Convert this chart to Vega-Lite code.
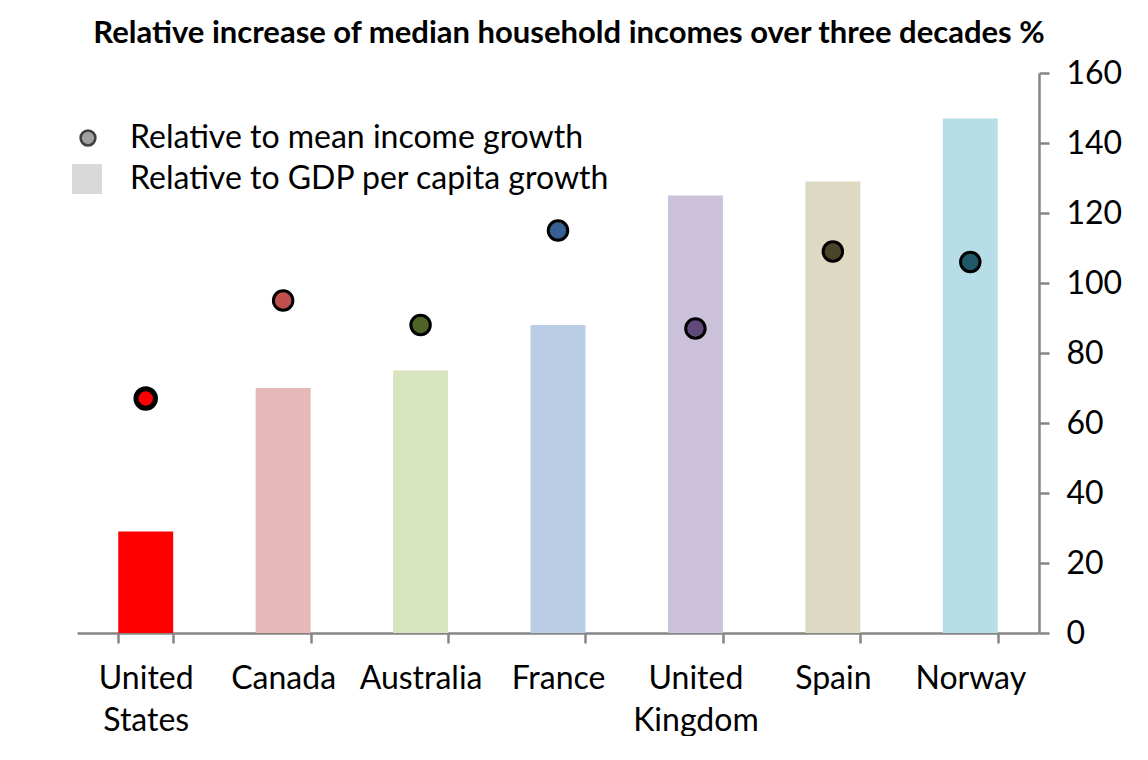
{
  "$schema": "https://vega.github.io/schema/vega-lite/v6.json",
  "width": 962,
  "height": 560,
  "padding": {"left": 71, "top": 18, "right": 0, "bottom": 0},
  "background": "white",
  "title": {
    "text": "Relative increase of median household incomes over three decades %",
    "font": "Lato",
    "fontSize": 31,
    "fontWeight": "bold",
    "color": "black",
    "anchor": "middle",
    "dx": 11,
    "offset": 7
  },
  "config": {
    "view": {"stroke": null},
    "font": "Lato",
    "axis": {
      "domainColor": "#868686",
      "domainWidth": 2.5,
      "tickColor": "#868686",
      "tickWidth": 2.5,
      "tickSize": 10,
      "labelFont": "Lato",
      "labelFontSize": 32,
      "labelColor": "black",
      "grid": false
    }
  },
  "data": {
    "values": [
      {"country": "United States", "gdp": 29, "mean": 67},
      {"country": "Canada", "gdp": 70, "mean": 95},
      {"country": "Australia", "gdp": 75, "mean": 88},
      {"country": "France", "gdp": 88, "mean": 115},
      {"country": "United Kingdom", "gdp": 125, "mean": 87},
      {"country": "Spain", "gdp": 129, "mean": 109},
      {"country": "Norway", "gdp": 147, "mean": 106}
    ]
  },
  "encoding": {
    "x": {
      "field": "country",
      "type": "nominal",
      "sort": null,
      "title": null,
      "scale": {"paddingInner": 0.6, "paddingOuter": 0.3},
      "axis": {
        "labelAngle": 0,
        "tickBand": "extent",
        "labelExpr": "split(datum.label, ' ')",
        "labelLineHeight": 42,
        "labelPadding": 20
      }
    }
  },
  "layer": [
    {
      "mark": {"type": "bar"},
      "encoding": {
        "y": {
          "field": "gdp",
          "type": "quantitative",
          "title": null,
          "scale": {"domain": [0, 160], "nice": false},
          "axis": {"orient": "right", "values": [0, 20, 40, 60, 80, 100, 120, 140, 160], "labelPadding": 17}
        },
        "fill": {
          "field": "country",
          "type": "nominal",
          "legend": null,
          "scale": {
            "domain": ["United States", "Canada", "Australia", "France", "United Kingdom", "Spain", "Norway"],
            "range": ["#FF0000", "#E6B9B8", "#D7E4BD", "#B9CDE5", "#CCC1DA", "#DDD9C3", "#B7DEE8"]
          }
        },
        "opacity": {
          "datum": "Relative to GDP per capita growth",
          "type": "nominal",
          "scale": {"type": "ordinal", "domain": ["Relative to GDP per capita growth"], "range": [1]},
          "legend": {
            "orient": "none",
            "legendX": -6,
            "legendY": 90,
            "title": null,
            "padding": 0,
            "symbolType": "square",
            "symbolSize": 900,
            "symbolFillColor": "#d9d9d9",
            "symbolStrokeColor": "#d9d9d9",
            "symbolStrokeWidth": 0,
            "symbolOpacity": 1,
            "labelFont": "Lato",
            "labelFontSize": 32,
            "labelColor": "black",
            "labelLimit": 0,
            "labelOffset": 27
          }
        }
      }
    },
    {
      "mark": {"type": "point", "filled": true, "size": 380, "stroke": "black", "opacity": 1},
      "encoding": {
        "y": {"field": "mean", "type": "quantitative", "title": null},
        "fill": {
          "field": "country",
          "type": "nominal",
          "legend": null,
          "scale": {
            "domain": ["United States", "Canada", "Australia", "France", "United Kingdom", "Spain", "Norway"],
            "range": ["#FF0000", "#C0504D", "#4F6228", "#376092", "#604A7B", "#4A452A", "#215968"]
          }
        },
        "strokeWidth": {"condition": {"test": "datum.country === 'United States'", "value": 5}, "value": 3},
        "shape": {
          "datum": "Relative to mean income growth",
          "scale": {"domain": ["Relative to mean income growth"], "range": ["circle"]},
          "legend": {
            "orient": "none",
            "legendX": -5,
            "legendY": 49,
            "title": null,
            "padding": 0,
            "symbolType": "circle",
            "symbolSize": 220,
            "symbolFillColor": "#a0a0a0",
            "symbolStrokeColor": "#404040",
            "symbolStrokeWidth": 2.5,
            "symbolOpacity": 1,
            "labelFont": "Lato",
            "labelFontSize": 32,
            "labelColor": "black",
            "labelLimit": 0,
            "labelOffset": 26
          }
        }
      }
    }
  ],
  "resolve": {"scale": {"fill": "independent"}}
}
